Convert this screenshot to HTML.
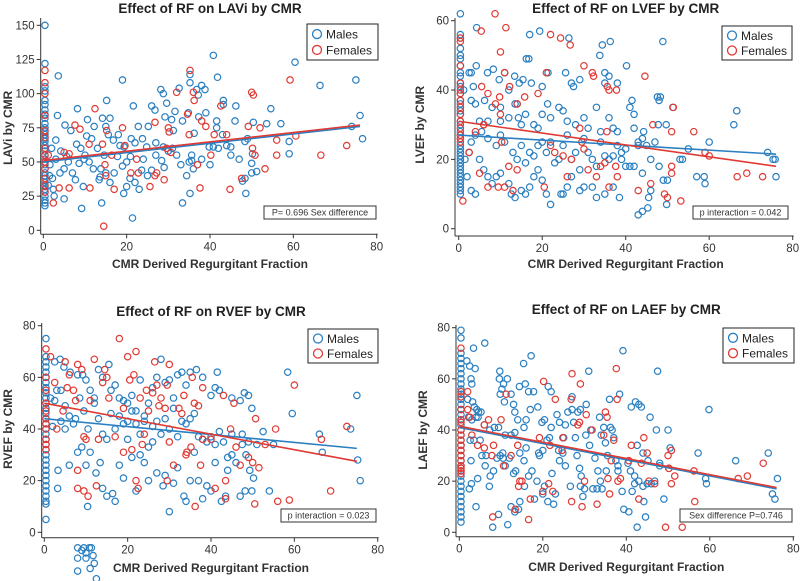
<!DOCTYPE html>
<html><head><meta charset="utf-8">
<style>
body{margin:0;background:#fff;}
svg{display:block;font-family:"Liberation Sans",Arial,sans-serif;}
.tick{font-size:11.5px;fill:#333;}
.ttl{font-size:13.5px;font-weight:bold;fill:#222;}
.axt{font-size:12px;font-weight:bold;fill:#333;}
.leg{font-size:12px;fill:#222;}
.ann{font-size:9px;fill:#333;}
</style></head>
<body>
<svg id="chart" width="800" height="581" viewBox="0 0 800 581"></svg>
<script>
// ---------- DATA ----------
const p1Title="Effect of RF on LAVi by CMR", p1YLabel="LAVi by CMR", p1Ann="P= 0.696 Sex difference";
const p1YTicks=[0,25,50,75,100,125,150];
const p1MaleZeroY=[150,122,105,102,95,92,88,85,82,78,75,72,70,67,65,62,60,58,55,52,50,48,45,42,40,38,35,32,30,28,25,22,20,18];
const p1Males=[[3.6,113],[19,110],[40.8,128],[41.8,112],[60.4,123],[66.4,106],[75,110],[76,84],[76.6,67],[74,76],[59,56],[59,65],[57,78],[54.6,89],[53.6,78],[51.2,43],[50.2,56],[50.4,79],[50,49],[50,42],[49,67],[48.4,65],[48.4,38],[48.6,27],[47.8,36],[46.2,91],[46,80],[45,61],[43.2,95],[43.2,92],[43,70],[41.6,80],[41.6,75],[40.8,61],[39.8,61],[39,86],[38.8,103],[38,106],[36.8,103],[37.2,99],[37.3,83],[36.2,71],[35.6,55],[35.6,51],[35.2,114],[35.2,108],[34.8,86],[34.4,40],[35.2,27],[33.4,20],[33.4,80],[32.6,104],[31.6,87],[30.8,81],[31.2,73],[29.6,93],[29.2,83],[28.2,103],[28.8,100],[28.8,61],[28.4,51],[26.8,88],[26,91],[25.2,76],[24.8,61],[23.8,67],[23.6,44],[22.8,76],[21.6,91],[21.4,9],[21.1,67],[20.9,54],[20.8,38],[20,32],[19.4,61],[19.3,27],[18.4,62],[17.8,54],[16.8,66],[16,82],[15.2,95],[15.6,70],[15,76],[14.6,55],[13.8,45],[13.6,39],[14.2,82],[14,20],[13.4,37],[12.2,76],[11.6,67],[10.6,81],[10.4,69],[9.8,52],[9.6,32],[9.2,16],[8.6,49],[8.2,89],[7.7,37],[6.6,73],[5.6,54],[5.2,77],[5,23],[4.2,58],[3.4,84],[3,66],[2.6,25],[2.2,38],[1.6,48],[1.2,33],[20,50],[25,40],[30,58],[35,50],[42,60],[44,62],[22,64],[27,55],[33,48],[38,52],[40,48],[12,45],[17,42],[8,63],[6,50],[4,42],[10,55],[15,42],[18,70],[23,30],[26,44],[31,60],[36,45],[24,52],[29,46],[32,55],[11,50],[13,60],[16,35],[19,47],[22,35],[27,64],[7,42],[9,60],[45,55],[47,52],[2,60],[3,52],[5,45],[1.5,40],[2.4,30]];
const p1FemaleZeroY=[117,108,100,84,73,68,60,55,50,45,38,33,28];
const p1Females=[[12.4,89],[7.6,77],[8.8,74],[5,57],[6.2,56],[6.2,31],[2.4,20],[3.8,31],[1.2,55],[11,63],[11.2,31],[14.2,63],[14.5,3],[14.8,48],[15,40],[15.2,73],[16.4,55],[17,30],[19,75],[19.6,62],[21,42],[22.4,52],[22.8,42],[25.6,32],[26.8,40],[26.8,79],[27.2,42],[29,37],[29.6,60],[30,75],[30.2,72],[30.6,57],[32,101],[34.6,85],[35.2,117],[35,70],[36,101],[36.2,95],[37,48],[37.6,31],[38,80],[39,76],[40.2,55],[41,70],[42.6,91],[44,70],[44.8,30],[47.6,38],[49.2,76],[50,101],[50.4,99],[50.2,60],[50.8,55],[52,75],[53.2,45],[56,66],[56,55],[59.2,110],[60.6,69],[66.6,55],[72.8,62]];
const p1LineMale=[[0,50],[76,76]];
const p1LineFemale=[[0,51],[76,77]];

const p2Title="Effect of RF on LVEF by CMR", p2YLabel="LVEF by CMR", p2Ann="p interaction = 0.042";
const p2YTicks=[0,20,40,60];
const p2MaleZeroY=[62,56,55,52,50,49,47,45,44,42,41,39,37,36,34,33,31,30,28,27,26,24,23,22,21,20,19,18,17,16,15,14,13,12,11,10];
const p2Males=[[4.3,58],[19.4,57],[17,56],[26.4,55],[36.3,54],[34.4,53],[48.9,54],[33.8,50],[40.2,47],[16.2,49],[16.8,49],[4.2,47],[6.9,45],[8.3,46],[2.5,45],[3,45],[11,45],[25.6,45],[13.4,44],[21.4,45],[35,45],[27,42],[27.5,41],[35,42],[38,42],[36,44],[29,43],[9.7,43],[15.4,43],[17.4,42],[20,41],[14.5,42],[1.2,40],[3.5,41],[6.2,37],[8,35],[10,35],[12,32],[13.5,36],[14.3,32],[15,30],[16,33],[18,30],[19,29],[20,33],[21.3,36],[22,32],[24,35],[25,34],[26,31],[28,30],[30,32],[31,29],[33,35],[34,28],[36,32],[37,29],[38,28],[41,35],[41.5,37],[42,29],[42,33],[43,25],[44,26],[44.3,28],[47.6,38],[48,37],[48.3,38],[47.8,30],[49.7,30],[51.3,35],[55,23],[57,15],[58.8,15],[59,13],[60,25],[65.9,30],[66.6,34],[74,22],[75.3,20],[75.8,20],[76,15],[53,20],[53.6,20],[50,14],[49,14],[48,18],[49.8,7],[45.3,6],[44,5],[43,4],[45.5,9],[42,18],[40,18],[39,20],[38.5,9],[37,12],[35,10],[33,9],[32,12],[30,12],[29,11],[27,15],[26,12],[25,10],[24.5,10],[22,7],[21,10],[20,14],[19,17],[18,15],[17,12],[16,10],[15,11],[13.5,9],[12.6,10],[12,13],[10,16],[9,15],[8,13],[7,15],[6,17],[5,20],[4,10],[3,11],[2,15],[1.5,20],[2.5,22],[3,25],[4,27],[5.5,28],[7,26],[9,24],[10,27],[11,25],[13,22],[14,20],[15,24],[16,19],[17,22],[18,21],[19,24],[20,25],[21,22],[22,25],[23,19],[24,20],[25,24],[26,27],[27,20],[28,22],[29,17],[30,26],[31,22],[32,20],[33,18],[34,25],[35,21],[36,20],[37,21],[38,24],[39,22],[40,23],[41,18],[43,24],[45,24],[46,20],[47,25],[44,16],[46,11],[10,31],[12,40],[14,36],[5,31],[7,31],[3,37],[4,36]];
const p2FemaleZeroY=[55,54,47,42,40,39,37,35,33,31,29,27,26,25];
const p2Females=[[8.7,62],[5.4,57],[11.3,58],[10,51],[5.5,41],[7,39],[9.8,38],[8.8,36],[12.2,41],[11,45],[14,36],[15.8,38],[22,56],[24.4,55],[26.7,53],[30,47],[32,45],[32.3,44],[35.6,41],[36,40],[37.8,40],[44.6,44],[21,45],[19,39],[6,30],[10,33],[10.3,25],[12,18],[11,12],[9.5,12],[7,12],[1,8],[2.5,22],[5,16],[13,11],[14,17],[22,24],[23,22],[20.5,12],[25,21],[26,15],[27,20],[29,29],[29.5,25],[30,23],[31,17],[33,15],[34,18],[35,19],[35.5,28],[36,12],[37.6,18],[38,15],[43,11],[46.5,30],[46,13],[49.3,10],[50,9],[51,28],[51,18],[51,16],[53.2,8],[56.3,28],[59,22],[60,21],[66.7,15],[69,16],[72.8,15],[51.4,35],[4,28],[6,30]];
const p2LineMale=[[0,27],[76,21.5]];
const p2LineFemale=[[0,31],[76,18]];

const p3Title="Effect of RF on RVEF by CMR", p3YLabel="RVEF by CMR", p3Ann="p interaction = 0.023";
const p3YTicks=[0,20,40,60,80];
const p3MaleZeroY=[75,68,66,64,62,60,58,56,54,52,50,48,46,44,42,40,38,36,34,32,30,28,26,24,22,20,18,16,14,12,11,5];
const p3Males=[[3.8,67],[2.5,66],[4.7,64],[6.2,62],[8,61],[9.2,61],[10,59],[11,55],[12,52],[13,63],[14,60],[15.5,65],[16,55],[17,57],[18,52],[19,51],[20,50],[21,53],[22,47],[23,59],[24,45],[25,50],[26,56],[27,60],[28,67],[29,58],[30,59],[31,52],[32,61],[33,62],[34,57],[35,62],[36.5,63],[38,60],[40,53],[41,56],[42,55],[41.5,62],[48,54],[49,53],[47,51],[45,52],[49.8,48],[58.4,62],[59.5,46],[66,38],[66.7,31],[73.5,40],[75,53],[75.2,28],[75.8,20],[55,34],[54,16],[52.5,39],[50.2,21],[49.8,16],[49.3,24],[48.2,16],[47,14],[47.5,34],[46,27],[45,30],[44,24],[43.5,14],[42.5,12],[41,27],[40,16],[39,18],[38,13],[37,20],[36,31],[35,20],[34,12],[33.5,14],[32,25],[31,19],[30,8],[29,22],[28.5,18],[27,23],[26,35],[25,20],[24,27],[23,30],[22,16],[21,29],[20,36],[19,21],[18,26],[17,12],[16.4,15],[15,14],[14,17],[13.4,27],[12.4,23],[11,31],[10.4,10],[10,26],[9,33],[8,31],[7,42],[6,26],[5,40],[4,43],[3.2,17],[3.3,24],[2,41],[1.5,52],[2.5,51],[3,55],[4,55],[5,49],[6,45],[7.5,44],[8.5,52],[9.5,47],[10.5,40],[12,50],[13,44],[14,38],[15,36],[16,46],[17,40],[18,45],[19,42],[20,43],[21,47],[22,42],[23,38],[24,43],[25,33],[26,41],[27,43],[28,38],[29,44],[30,40],[31,48],[32,37],[33,43],[34,42],[35,44],[36,46],[37,37],[38,36],[39,35],[40,37],[41,34],[42,39],[43,35],[44,29],[45,38],[47.5,38],[48.4,30],[49,35],[51,34],[8,-6],[9,-7],[10,-8],[10.8,-6],[11.3,-6],[11.7,-9],[8,-10],[10,-10],[12,-12],[11,-14],[8,-15],[12.5,-18],[9.5,-6]];
const p3FemaleZeroY=[71,60,55,50,47,44,42,40,36,34,32];
const p3Females=[[1.5,68],[2.5,58],[3,40],[4.5,47],[5,66],[5.5,56],[6,61],[7,55],[7.5,51],[8,65],[9,63],[9.5,37],[10,36],[10.5,14],[11,51],[12,67],[12.5,18],[8,24],[8,17],[9.5,16],[13,36],[14,58],[14.5,63],[15,60],[15.5,52],[17,37],[18,75],[19,48],[19,31],[20,68],[20.5,59],[21,32],[21.5,61],[22,70],[22,20],[22.5,17],[23,52],[23.5,34],[24,38],[24.5,55],[25,47],[26,54],[26.5,66],[27,57],[27.5,49],[28,52],[29,48],[29.5,57],[30,65],[29.5,20],[30,35],[31,26],[32.3,48],[33,46],[33.5,53],[34,30],[34.2,31],[35.2,33],[35.5,60],[36,50],[36.2,10],[37,49],[37.5,26],[38,56],[38,36],[40,36],[41,17],[43,53],[43.5,20],[43.5,13],[44.7,40],[45.5,50],[46,33],[47,26],[49,29],[50,27],[50.5,11],[50.7,44],[51.5,25],[53,34],[55.5,40],[56,12],[58.8,12.5],[60,57],[66.5,36],[68.7,16],[72.6,41]];
const p3LineMale=[[0,44],[75,32.5]];
const p3LineFemale=[[0,50],[75,27.5]];

const p4Title="Effect of RF on LAEF by CMR", p4YLabel="LAEF by CMR", p4Ann="Sex difference P=0.746";
const p4YTicks=[0,20,40,60,80];
const p4MaleZeroY=[79,76,70,68,66,64,62,60,58,56,54,52,50,48,46,44,42,40,38,36,34,32,30,28,26,24,22,20,18,16,14,12,10,8,6,4];
const p4Males=[[6.1,74],[3.4,72],[1.8,67],[2.5,65],[3.8,64],[2.8,60],[3,58],[2,52],[3.2,51],[3.6,49],[4.2,48],[4.6,47],[5.2,47],[2.2,45],[3,44],[4,45],[6,42],[7.3,40],[8.4,41],[9.4,41],[9.7,63],[9.6,60],[10.2,56],[9.8,54],[10.6,58],[11.5,60],[10.8,51],[12.4,54],[13,50],[13.3,47],[14.4,57],[15.4,66],[15.8,58],[16.6,55],[17.2,69],[17.8,55],[17,48],[16,44],[15.5,41],[14,44],[13.3,39],[12.4,38],[11,38],[10.4,31],[9.8,30],[9,29],[8.2,24],[7.4,22],[6.2,26],[5.4,30],[4.4,21],[4,10],[3.5,36],[2.6,36],[2.8,28],[2.4,17],[2.9,19],[7.2,18],[8,2],[9.4,7],[11.6,3],[12.4,10],[13.3,8],[14.2,9],[14.5,12],[15.6,18],[16.6,22],[17.4,24],[18,13],[18.6,20],[19.2,30],[20,32],[21,36],[22,41],[22,55],[21.3,57],[23.4,46],[24,43],[25,37],[25.4,42],[26,47],[27,53],[27,48],[27.4,43],[27.8,37],[28.4,47],[29,48],[28.2,30],[28.8,25],[29.2,22],[29,18],[29.6,14],[30,17],[31.5,40],[31,63],[30.4,50],[32.5,29],[33.6,45],[34,38],[34.6,41],[35,35],[35.5,30],[36,52],[36.2,41],[37,37],[38,26],[39.2,71],[38.4,54],[38,24],[39,16],[39.4,9],[40.6,8],[41.2,49],[42.2,51],[43,50],[43.6,49],[42,19],[42,22],[43,20],[44,18],[44.2,12],[44.6,6],[42.6,2],[45.7,45],[45.2,28],[47.2,40],[47.5,63],[48,27],[49,13],[50,40],[50.2,25],[50.5,33],[57.2,31],[59,21],[59.2,19],[59.8,48],[66.2,28],[74,31],[75,15],[75.6,13],[76.2,21],[18.8,49],[19.8,43],[20.4,44],[20.4,18],[20,15],[21.2,12],[22.2,23],[22.6,11],[23,15],[24,28],[24.8,31],[25.4,26],[26.6,18],[23.8,32],[21.6,37],[19,31],[16,33],[15.5,28],[14.5,31],[13.5,24],[13,23],[12,29],[11,26],[10.5,29],[6.4,30],[5,36],[4.5,45],[30.3,38],[31.2,34],[32,17],[33,17],[33.2,24],[33.8,20],[34.2,17],[35.2,24],[36.6,40],[37.5,28],[40.4,27],[41,24],[41.4,16],[42.6,34],[44,31],[45,19],[46,19],[46.8,20],[48,26]];
const p4FemaleZeroY=[72,55,53,48,44,43,40,38,36,34,32,30,28,26,25,24,23];
const p4Females=[[2,55],[2,48],[2.5,45],[3,38],[4.4,34],[6,33],[6,42],[7,44],[7.8,30],[8.2,34],[8,6],[10,44],[10.6,26],[11.2,54],[12.4,30],[13.4,9],[14.2,18],[14.5,20],[14,34],[15,20],[16.6,5],[17,13],[19.2,37],[20,16],[20.2,59],[21.4,19],[21.7,34],[22.4,16],[23,52],[24.6,32],[24.8,37],[26.8,52],[27,62],[26.9,12],[28.4,42],[29,58],[28.8,43],[29.4,10],[30,20],[30.4,46],[31.8,40],[33,11],[34.6,38],[35,47],[35.4,45],[35.6,21],[36,15],[36.4,28],[37,36],[37.6,64],[37.8,52],[38,20],[38.6,21],[40.6,28],[41.2,34],[43,13],[43.6,27],[44.2,37],[45,31],[45.4,20],[46.8,19],[49.4,2],[50,30],[50.2,25],[50.8,19],[50.8,32],[51.6,22],[53.4,2],[56.2,24],[56.4,12],[66.8,21],[69,22],[72.8,27]];
const p4LineMale=[[0,41],[76,17]];
const p4LineFemale=[[0,41.5],[76,17.5]];

const xTicks=[0,20,40,60,80];
const zeroColumnX=0.4;
const xAxisLabel="CMR Derived Regurgitant Fraction";
const legendLabels=["Males","Females"];

// ---------- LAYOUT ----------
const BLUE="#2a7fc1", RED="#e03a34";
const layouts=[
 {id:"lavi",x0:43.3,x1:376.7,y0:230.3,y1:25.3,ymax:150,ax:40.7,ab:234.3,atop:18,titleY:13,ytX:12,xtY:268,leg:[307,24,71,36],ann:[264,206,112,13]},
 {id:"lvef",x0:458.7,x1:792.7,y0:228.7,y1:20.7,ymax:60,ax:455,ab:236,atop:18,titleY:13,ytX:424,xtY:268,leg:[722,26,70,34],ann:[693,206,95,13]},
 {id:"rvef",x0:44.3,x1:377.7,y0:532.3,y1:325.7,ymax:80,ax:41.7,ab:537.7,atop:323,titleY:316,ytX:12,xtY:572,leg:[308,329,70,34],ann:[281,509,95,13]},
 {id:"laef",x0:459.3,x1:793.3,y0:532.3,y1:327.7,ymax:80,ax:456,ab:536.7,atop:325,titleY:314,ytX:427,xtY:571,leg:[723,328,71,35],ann:[680,509,112,13]}
];
const panels=[
 {title:p1Title,yl:p1YLabel,ann:p1Ann,yt:p1YTicks,mz:p1MaleZeroY,m:p1Males,fz:p1FemaleZeroY,f:p1Females,lm:p1LineMale,lf:p1LineFemale},
 {title:p2Title,yl:p2YLabel,ann:p2Ann,yt:p2YTicks,mz:p2MaleZeroY,m:p2Males,fz:p2FemaleZeroY,f:p2Females,lm:p2LineMale,lf:p2LineFemale},
 {title:p3Title,yl:p3YLabel,ann:p3Ann,yt:p3YTicks,mz:p3MaleZeroY,m:p3Males,fz:p3FemaleZeroY,f:p3Females,lm:p3LineMale,lf:p3LineFemale},
 {title:p4Title,yl:p4YLabel,ann:p4Ann,yt:p4YTicks,mz:p4MaleZeroY,m:p4Males,fz:p4FemaleZeroY,f:p4Females,lm:p4LineMale,lf:p4LineFemale}
];

const NS="http://www.w3.org/2000/svg";
const svg=document.getElementById("chart");
function mk(tag,attrs,parent,text){
  const e=document.createElementNS(NS,tag);
  for(const k in attrs) e.setAttribute(k,attrs[k]);
  if(text!==undefined) e.textContent=text;
  parent.appendChild(e);return e;
}

layouts.forEach((L,i)=>{
  const P=panels[i];
  const sx=v=>L.x0+(L.x1-L.x0)*v/80;
  const sy=v=>L.y0+(L.y1-L.y0)*v/L.ymax;
  const g=mk("g",{},svg);
  
  
  // axes
  const ya=mk("line",{x1:L.ax,y1:L.atop,x2:L.ax,y2:L.ab,stroke:"#333","stroke-width":1},g);
  
  
  const xa=mk("line",{x1:L.ax,y1:L.ab,x2:sx(80)+1,y2:L.ab,stroke:"#333","stroke-width":1},g);
  
  
  P.yt.forEach(t=>{
    mk("line",{x1:L.ax-4,y1:sy(t),x2:L.ax,y2:sy(t),stroke:"#333"},g);
    const tl=mk("text",{x:L.ax-6,y:sy(t)+4,"text-anchor":"end",class:"tick"},g,String(t));
    
    
  });
  xTicks.forEach(t=>{
    mk("line",{x1:sx(t),y1:L.ab,x2:sx(t),y2:L.ab+4,stroke:"#333"},g);
    const tl=mk("text",{x:sx(t),y:L.ab+16,"text-anchor":"middle",class:"tick"},g,String(t));
    
    
  });
  // titles
  const cx=(L.x0+L.x1)/2;
  const tt=mk("text",{x:cx,y:L.titleY,"text-anchor":"middle",class:"ttl"},g,P.title);
  
  
  const xt=mk("text",{x:cx,y:L.xtY,"text-anchor":"middle",class:"axt"},g,xAxisLabel);
  
  
  const ymid=(L.y0+L.y1)/2;
  const yt=mk("text",{x:L.ytX,y:ymid,"text-anchor":"middle",class:"axt",transform:`rotate(-90 ${L.ytX} ${ymid})`},g,P.yl);
  
  
  // points
  function dot(x,y,col,name){
    const c=mk("circle",{cx:sx(x),cy:sy(y),r:3.2,fill:"none",stroke:col,"stroke-width":1.2},g);
    
    
  }
  P.mz.forEach(y=>dot(zeroColumnX,y,BLUE,'male-point'));
  P.m.forEach(p=>dot(p[0],p[1],BLUE,'male-point'));
  P.fz.forEach(y=>dot(zeroColumnX,y,RED,'female-point'));
  P.f.forEach(p=>dot(p[0],p[1],RED,'female-point'));
  // fit lines
  const lm=mk("line",{x1:sx(P.lm[0][0]),y1:sy(P.lm[0][1]),x2:sx(P.lm[1][0]),y2:sy(P.lm[1][1]),stroke:BLUE,"stroke-width":1.6},g);
  
  
  const lf=mk("line",{x1:sx(P.lf[0][0]),y1:sy(P.lf[0][1]),x2:sx(P.lf[1][0]),y2:sy(P.lf[1][1]),stroke:RED,"stroke-width":1.6},g);
  
  
  // legend
  const [lx,ly,lw,lh]=L.leg;
  const lg=mk("g",{},g);
  
  
  mk("rect",{x:lx,y:ly,width:lw,height:lh,fill:"#fff",stroke:"#222","stroke-width":1},lg);
  [BLUE,RED].forEach((col,k)=>{
    const ey=ly+lh*(k===0?0.28:0.72);
    const e=mk("g",{},lg);
    
    
    mk("circle",{cx:lx+10,cy:ey,r:4.5,fill:"none",stroke:col,"stroke-width":1.3},e);
    mk("text",{x:lx+19,y:ey+4.5,class:"leg"},e,legendLabels[k]);
  });
  // annotation
  const [ax,ay,aw,ah]=L.ann;
  const ag=mk("g",{},g);
  
  
  mk("rect",{x:ax,y:ay,width:aw,height:ah,fill:"#fff",stroke:"#333","stroke-width":1},ag);
  mk("text",{x:ax+aw/2,y:ay+ah-3.5,"text-anchor":"middle",class:"ann"},ag,P.ann);
});
</script>
</body></html>
